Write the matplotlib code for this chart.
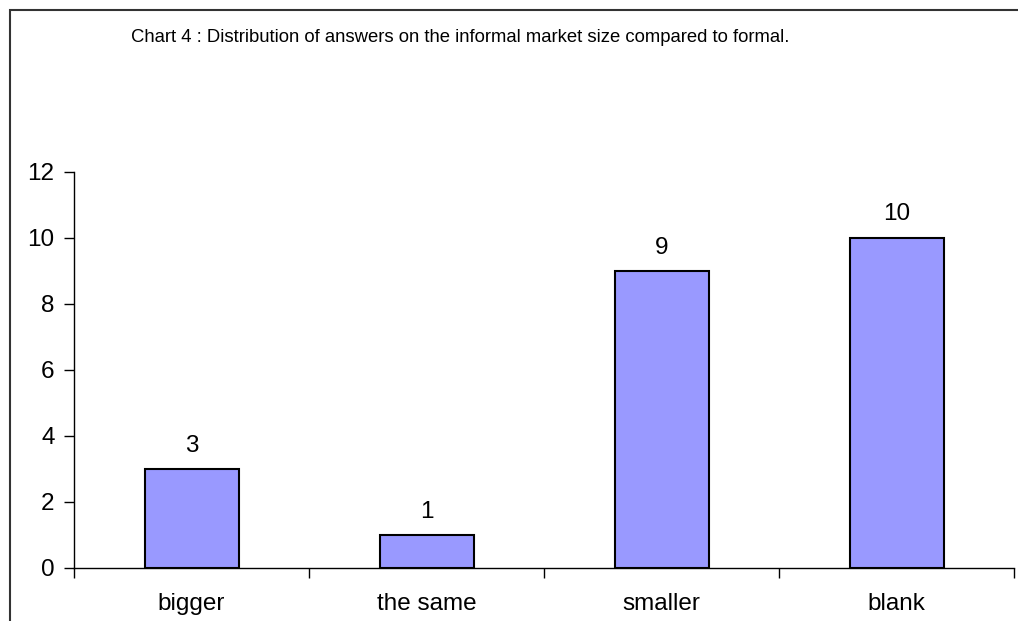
import matplotlib
matplotlib.use("Agg")
import matplotlib.pyplot as plt
from matplotlib.patches import Rectangle

categories = ["bigger", "the same", "smaller", "blank"]
counts = [3, 1, 9, 10]
y_ticks = [0, 2, 4, 6, 8, 10, 12]
title = "Chart 4 : Distribution of answers on the informal market size compared to formal."

plt.rcParams['font.family'] = ['Liberation Sans', 'DejaVu Sans']

W, H = 1018, 621
fig = plt.figure(figsize=(W / 100, H / 100), dpi=100)

# outer frame (right and bottom edges run past the canvas)
fig.patches.append(Rectangle((9.5 / W, -0.1), 1.2, (H - 9.5) / H + 0.1,
                             transform=fig.transFigure, fill=False,
                             edgecolor='#333333', linewidth=1.5))

left, right = 74 / W, 1014 / W
bottom, top = 1 - 568 / H, 1 - 172 / H
ax = fig.add_axes([left, bottom, right - left, top - bottom])

x = list(range(len(categories)))
bars = ax.bar(x, counts, width=0.4, color='#9999FF', edgecolor='black', linewidth=1.5, zorder=3)
for xi, v in zip(x, counts):
    ax.annotate(str(v), (xi, v), xytext=(0, 9), textcoords='offset points',
                ha='center', va='bottom', fontsize=17.5)

ax.set_xlim(-0.5, len(categories) - 0.5)
ax.set_ylim(0, 12)
ax.set_yticks(y_ticks)
ax.set_yticklabels([str(t) for t in y_ticks], fontsize=17.5)
ax.set_xticks(x)
ax.set_xticklabels(categories, fontsize=17.5)
ax.tick_params(axis='x', length=0, pad=18)
ax.set_xticks([i - 0.5 for i in range(len(categories) + 1)], minor=True)
ax.tick_params(axis='x', which='minor', length=7, width=1, direction='out')
ax.tick_params(axis='y', length=7, width=1, direction='out', pad=7)

for s in ['top', 'right']:
    ax.spines[s].set_visible(False)
for s in ['left', 'bottom']:
    ax.spines[s].set_linewidth(1)

fig.text(460 / W, 1 - 37 / H, title, ha='center', va='center', fontsize=13.3)

fig.savefig('out.png', dpi=100)
